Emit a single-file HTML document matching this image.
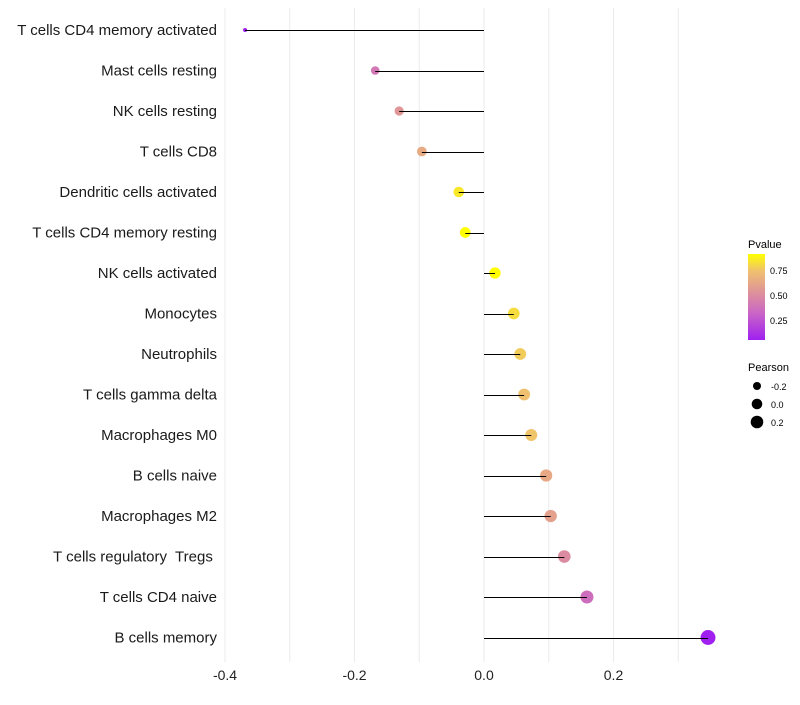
<!DOCTYPE html>
<html><head><meta charset="utf-8"><style>
body{margin:0;background:#fff;font-family:"Liberation Sans",sans-serif}
#ylabels text{white-space:pre}
</style></head><body>
<svg id="chart" width="800" height="700" xmlns="http://www.w3.org/2000/svg">
<g id="grid"></g>
<g id="marks"></g>
<g id="ylabels"></g>
<g id="xlabels"></g>
<g id="legend">
<defs><linearGradient id="pg" x1="0" y1="1" x2="0" y2="0">
<stop offset="0" stop-color="#a020f0"/><stop offset="0.3" stop-color="#c863c8"/><stop offset="0.52" stop-color="#dc8ca0"/><stop offset="0.8" stop-color="#efc070"/><stop offset="1" stop-color="#ffff00"/></linearGradient></defs>
<text x="748" y="248" font-size="11">Pvalue</text>
<rect x="748" y="254" width="17" height="86" fill="url(#pg)"/>
<text x="770" y="274" font-size="9">0.75</text>
<text x="770" y="299" font-size="9">0.50</text>
<text x="770" y="324" font-size="9">0.25</text>
<text x="748" y="371" font-size="11">Pearson</text>
<circle cx="757" cy="386" r="4"/>
<circle cx="757" cy="404" r="5.3"/>
<circle cx="757" cy="422" r="6.3"/>
<text x="771" y="390" font-size="9">-0.2</text>
<text x="771" y="408" font-size="9">0.0</text>
<text x="771" y="426" font-size="9">0.2</text>
</g>
</svg>
<script>
const categories=["T cells CD4 memory activated","Mast cells resting","NK cells resting","T cells CD8","Dendritic cells activated","T cells CD4 memory resting","NK cells activated","Monocytes","Neutrophils","T cells gamma delta","Macrophages M0","B cells naive","Macrophages M2","T cells regulatory  Tregs ","T cells CD4 naive","B cells memory"];
const pearson=[-0.369,-0.168,-0.131,-0.096,-0.039,-0.029,0.017,0.046,0.056,0.062,0.073,0.096,0.103,0.124,0.159,0.346];
const pvalues=[0.05,0.4,0.55,0.65,0.85,0.93,0.95,0.82,0.78,0.75,0.76,0.64,0.6,0.5,0.35,0.05];
const xTicks=[-0.4,-0.2,0,0.2];
const xTickLabels=["-0.4","-0.2","0.0","0.2"];
const minorTicks=[-0.3,-0.1,0.1,0.3];
const NS="http://www.w3.org/2000/svg";
const xs=v=>484+v*647.5;
const ys=i=>30+i*40.5;
function color(p){
 const stops=[[0.05,[160,32,240]],[0.3,[200,99,200]],[0.5,[220,140,160]],[0.75,[239,192,112]],[0.91,[255,255,0]]];
 if(p<=stops[0][0])return "rgb("+stops[0][1]+")";
 for(let k=1;k<stops.length;k++){if(p<=stops[k][0]){const t=(p-stops[k-1][0])/(stops[k][0]-stops[k-1][0]);const c=stops[k-1][1].map((a,j)=>Math.round(a+(stops[k][1][j]-a)*t));return "rgb("+c+")";}}
 return "rgb(255,255,0)";}
const rs=v=>Math.sqrt(Math.max(4,4+(v+0.37)/0.72*52));
function mk(tag,attrs,parent){const e=document.createElementNS(NS,tag);for(const k in attrs)e.setAttribute(k,attrs[k]);document.getElementById(parent).appendChild(e);return e;}
xTicks.concat(minorTicks).forEach(v=>{
 const l=mk("line",{x1:xs(v),x2:xs(v),y1:8,y2:662,stroke:"#ebebeb","stroke-width":1},"grid");
 
 
});
xTicks.forEach((v,i)=>{
 const t=mk("text",{x:xs(v),y:680,"font-size":14,"text-anchor":"middle",fill:"#222"},"xlabels");
 t.textContent=xTickLabels[i];
 
 
});
categories.forEach((c,i)=>{
 const y=ys(i);
 const t=mk("text",{x:217,y:y+5,"font-size":15,"text-anchor":"end",fill:"#1a1a1a"},"ylabels");
 t.textContent=c;
 
 
 const p=mk("circle",{cx:xs(pearson[i]),cy:y,r:rs(pearson[i]),fill:color(pvalues[i])},"marks");
 
 
 const yl=Math.round(y)+0.5;
 const l=mk("line",{x1:xs(0),x2:xs(pearson[i]),y1:yl,y2:yl,stroke:"#000","stroke-width":1},"marks");
 
 
});
</script>
</body></html>
